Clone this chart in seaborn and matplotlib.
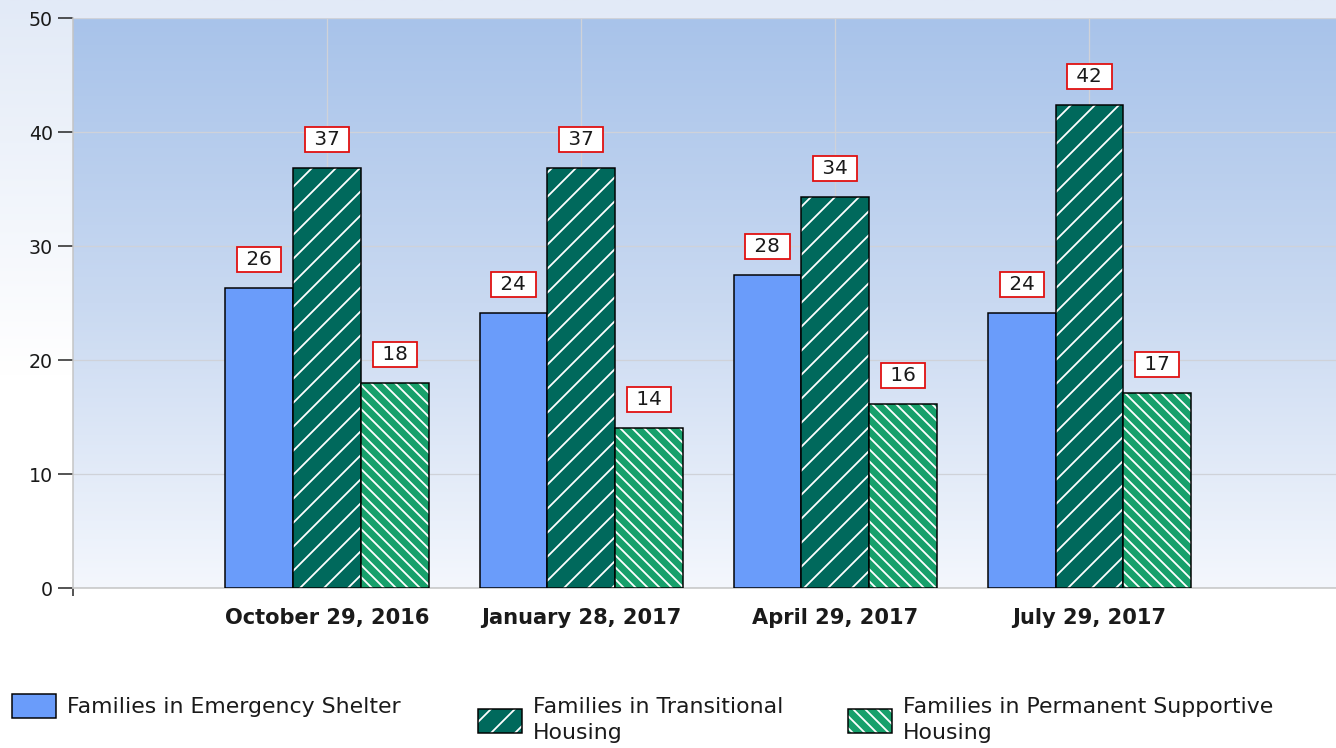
import matplotlib.pyplot as plt
import matplotlib.colors as mcolors
import numpy as np
import pandas as pd
import seaborn as sns

# data
dates = ['October 29, 2016', 'January 28, 2017', 'April 29, 2017', 'July 29, 2017']
series = ['Families in Emergency Shelter',
          'Families in Transitional\nHousing',
          'Families in Permanent Supportive\nHousing']
emergency = [26.3, 24.1, 27.5, 24.1]
transitional = [36.8, 36.8, 34.3, 42.4]
permanent = [18.0, 14.0, 16.1, 17.1]

colors = ['#6a9cfa', '#00695c', '#17a06b']
hatches = ['', '/', '\\\\']

df = pd.DataFrame({
    'date': dates * 3,
    'series': np.repeat(series, len(dates)),
    'value': emergency + transitional + permanent,
})

sns.set_style('white')
plt.rcParams['font.family'] = ['DejaVu Sans']
plt.rcParams['hatch.linewidth'] = 1.8

# dpi 72 so that 1 pt == 1 px and hatch spacing matches
fig = plt.figure(figsize=(1336 / 72, 748 / 72), dpi=72)

# figure background gradient
bg = fig.add_axes([0, 0, 1, 1], zorder=-10)
bg_cmap = mcolors.LinearSegmentedColormap.from_list('bg', ['#ffffff', '#ffffff', '#e2eaf7'])
bg.imshow(np.linspace(0, 1, 256).reshape(-1, 1)[::-1], aspect='auto', cmap=bg_cmap,
          extent=[0, 1, 0, 1])
bg.axis('off')

ax = fig.add_axes([73 / 1336, 1 - 588 / 748, 1 - 73 / 1336, (588 - 18) / 748])

sns.barplot(data=df, x='date', y='value', hue='series', palette=colors, width=0.8,
            saturation=1, edgecolor='black', linewidth=1.5, legend=False, ax=ax)

white = mcolors.to_rgba('white')
for cont, h in zip(ax.containers, hatches):
    for p in cont.patches:
        p.set_zorder(3)
        if h:
            p.set_hatch(h)
            if hasattr(p, 'set_hatchcolor'):
                p.set_hatchcolor('white')
            else:
                p._hatch_color = white

# value labels in red boxes
for cont in ax.containers:
    for p in cont.patches:
        v = p.get_height()
        ax.text(p.get_x() + p.get_width() / 2, v + 2.5, f' {v:.0f} ',
                ha='center', va='center', fontsize=20, color='#1a1a1a', zorder=5,
                bbox=dict(boxstyle='square,pad=0.15', fc='white', ec='#e01010', lw=1.8))

# axes background gradient
ax_cmap = mcolors.LinearSegmentedColormap.from_list('axbg', ['#f4f7fd', '#c9d9f1', '#a8c3ea'])
ax.imshow(np.linspace(0, 1, 256).reshape(-1, 1)[::-1], aspect='auto', cmap=ax_cmap,
          extent=[-1, 4, 0, 50], zorder=-1)

ax.set_xlim(-1, 3.97)
ax.set_ylim(0, 50)
ax.set_yticks(range(0, 51, 10))
ax.set_xlabel('')
ax.set_ylabel('')
ax.grid(True, color='#cfd2d9', lw=1.3, zorder=0)
ax.set_axisbelow(True)

for s in ['top', 'right']:
    ax.spines[s].set_visible(False)
for s in ['left', 'bottom']:
    ax.spines[s].set_color('#c4c4c4')
    ax.spines[s].set_linewidth(1.5)

ax.tick_params(axis='y', left=True, length=15, width=1.5, color='#202020', labelsize=19,
               labelcolor='#1a1a1a', pad=5)
ax.tick_params(axis='x', which='major', bottom=False, length=0, labelsize=21,
               labelcolor='#1a1a1a', pad=20)
ax.set_xticks([-1], minor=True)
ax.tick_params(axis='x', which='minor', bottom=True, length=8, width=1.5, color='#202020')
for t in ax.get_xticklabels():
    t.set_fontweight('bold')

# legend: one entry per series placed along the bottom
leg_x = [12 / 1336, 478 / 1336, 848 / 1336]
leg_y = [1 - 706 / 748, 1 - 720 / 748, 1 - 720 / 748]
for cont, label, x, y in zip(ax.containers, series, leg_x, leg_y):
    leg = fig.legend([cont.patches[0]], [label], loc='center left', bbox_to_anchor=(x, y),
                     frameon=False, fontsize=22, handlelength=2.0, handleheight=1.3,
                     handletextpad=0.5, borderpad=0, borderaxespad=0)
    for t in leg.get_texts():
        t.set_linespacing(1.35)
        t.set_color('#1a1a1a')

plt.savefig('out.png', dpi=72)
